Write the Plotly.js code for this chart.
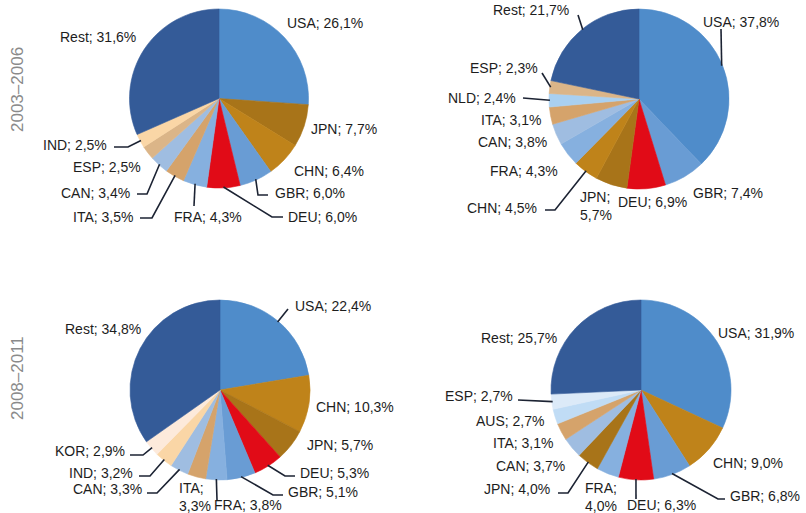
<!DOCTYPE html>
<html>
<head>
<meta charset="utf-8">
<script src="https://cdn.plot.ly/plotly-3.0.1.min.js"></script>
<style>
  html, body { margin: 0; padding: 0; background: #fff; }
  #chart { width: 806px; height: 513px; }
</style>
</head>
<body>
<div id="chart"></div>
<script>
// Country shares of output, two periods, two groupings (percent)
const countriesA1 = ['USA', 'JPN', 'CHN', 'GBR', 'DEU', 'FRA', 'ITA', 'CAN', 'ESP', 'IND', 'Rest'];
const valuesA1    = [26.1, 7.7, 6.4, 6.0, 6.0, 4.3, 3.5, 3.4, 2.5, 2.5, 31.6];

const countriesB1 = ['USA', 'GBR', 'DEU', 'JPN', 'CHN', 'FRA', 'CAN', 'ITA', 'NLD', 'ESP', 'Rest'];
const valuesB1    = [37.8, 7.4, 6.9, 5.7, 4.5, 4.3, 3.8, 3.1, 2.4, 2.3, 21.7];

const countriesA2 = ['USA', 'CHN', 'JPN', 'DEU', 'GBR', 'FRA', 'ITA', 'CAN', 'IND', 'KOR', 'Rest'];
const valuesA2    = [22.4, 10.3, 5.7, 5.3, 5.1, 3.8, 3.3, 3.3, 3.2, 2.9, 34.8];

const countriesB2 = ['USA', 'CHN', 'GBR', 'DEU', 'FRA', 'JPN', 'CAN', 'ITA', 'AUS', 'ESP', 'Rest'];
const valuesB2    = [31.9, 9.0, 6.8, 6.3, 4.0, 4.0, 3.7, 3.1, 2.7, 2.7, 25.7];

const periodLabels = ['2003–2006', '2008–2011'];

// Slice palette
const C = {
  usa: '#4f8cca', gbr: '#699cd4', deu: '#e10b17', fra: '#86b0df', can: '#9fbde1',
  ita: '#d5a36b', espTan: '#dbb588', ind: '#fad6a6', kor: '#fdeadb', nld: '#a9d0f1',
  jpn: '#a87419', chn: '#bf831a', aus: '#c0dcf5', espBlue: '#dceaf8', rest: '#345b98'
};
const colorsA1 = [C.usa, C.jpn, C.chn, C.gbr, C.deu, C.fra, C.ita, C.can, C.espTan, C.ind, C.rest];
const colorsB1 = [C.usa, C.gbr, C.deu, C.jpn, C.chn, C.fra, C.can, C.ita, C.nld, C.espTan, C.rest];
const colorsA2 = [C.usa, C.chn, C.jpn, C.deu, C.gbr, C.fra, C.ita, C.can, C.ind, C.kor, C.rest];
const colorsB2 = [C.usa, C.chn, C.gbr, C.deu, C.fra, C.jpn, C.can, C.ita, C.aus, C.espBlue, C.rest];

const W = 806, H = 513;

// Label placement (pixels): anchor side, text position, optional leader bends
const placeA1 = {
  USA: {a: 'left', x: 285, y: 23},
  JPN: {a: 'left', x: 309, y: 129},
  CHN: {a: 'left', x: 292, y: 171},
  GBR: {a: 'left', x: 273, y: 193, lead: [[258, 195], [268, 195]]},
  DEU: {a: 'left', x: 286, y: 217, lead: [[272, 217], [283, 217]]},
  FRA: {a: 'left', x: 172, y: 217, lead: [[194, 206]]},
  ITA: {a: 'right', x: 135, y: 217, lead: [[152, 218], [140, 218]]},
  CAN: {a: 'right', x: 132, y: 193, lead: [[147, 194], [137, 194]]},
  ESP: {a: 'right', x: 143, y: 167},
  IND: {a: 'right', x: 109, y: 145, lead: [[128, 147], [114, 147]]},
  Rest: {a: 'right', x: 138, y: 37}
};
const placeB1 = {
  USA: {a: 'left', x: 701, y: 22, lead: [[721, 29]]},
  GBR: {a: 'left', x: 691, y: 193},
  DEU: {a: 'left', x: 616, y: 202},
  JPN: {a: 'left', x: 578, y: 206, br: true},
  CHN: {a: 'right', x: 539, y: 208, lead: [[555, 210], [545, 210]]},
  FRA: {a: 'right', x: 560, y: 171},
  CAN: {a: 'right', x: 549, y: 142},
  ITA: {a: 'right', x: 543, y: 120},
  NLD: {a: 'right', x: 518, y: 98, lead: [[523, 98]]},
  ESP: {a: 'right', x: 540, y: 68, lead: [[542, 73]]},
  Rest: {a: 'right', x: 571, y: 10, lead: [[578, 15]]}
};
const placeA2 = {
  USA: {a: 'left', x: 293, y: 306, lead: [[288, 309]]},
  CHN: {a: 'left', x: 314, y: 407},
  JPN: {a: 'left', x: 305, y: 445},
  DEU: {a: 'left', x: 298, y: 473, lead: [[285, 476], [295, 476]]},
  GBR: {a: 'left', x: 286, y: 492, lead: [[273, 495], [283, 495]]},
  FRA: {a: 'left', x: 212, y: 505, lead: [[217, 500]]},
  ITA: {a: 'left', x: 177, y: 497, br: true},
  CAN: {a: 'right', x: 144, y: 489, lead: [[157, 493], [147, 493]]},
  IND: {a: 'right', x: 135, y: 473, lead: [[150, 476], [139, 476]]},
  KOR: {a: 'right', x: 127, y: 451, lead: [[143, 455], [130, 455]]},
  Rest: {a: 'right', x: 143, y: 329}
};
const placeB2 = {
  USA: {a: 'left', x: 716, y: 333},
  CHN: {a: 'left', x: 711, y: 463},
  GBR: {a: 'left', x: 728, y: 496, lead: [[718, 499], [725, 499]]},
  DEU: {a: 'left', x: 625, y: 505, lead: [[636, 499]]},
  FRA: {a: 'left', x: 583, y: 497, br: true},
  JPN: {a: 'right', x: 552, y: 489, lead: [[568, 493], [558, 493]]},
  CAN: {a: 'right', x: 567, y: 466},
  ITA: {a: 'right', x: 555, y: 443},
  AUS: {a: 'right', x: 546, y: 421},
  ESP: {a: 'right', x: 515, y: 396, lead: [[518, 400]]},
  Rest: {a: 'right', x: 559, y: 338}
};

const pies = [
  {names: countriesA1, values: valuesA1, colors: colorsA1, place: placeA1, cx: 219, cy: 98.5, r: 89.5},
  {names: countriesB1, values: valuesB1, colors: colorsB1, place: placeB1, cx: 639, cy: 99, r: 90},
  {names: countriesA2, values: valuesA2, colors: colorsA2, place: placeA2, cx: 220, cy: 390, r: 90},
  {names: countriesB2, values: valuesB2, colors: colorsB2, place: placeB2, cx: 641, cy: 390, r: 90}
];

const px = x => x / W;
const py = y => 1 - y / H;
const fmt = v => v.toFixed(1).replace('.', ',') + '%';

const traces = [];
const annotations = [];
const shapes = [];
const labelFont = {family: 'Liberation Sans, Arial, sans-serif', size: 14, color: '#1d1d1d'};

pies.forEach(p => {
  traces.push({
    type: 'pie',
    labels: p.names,
    values: p.values,
    sort: false,
    direction: 'clockwise',
    rotation: 0,
    textinfo: 'none',
    hoverinfo: 'label+percent',
    // outline each slice in its own colour so no seams show between wedges
    marker: {colors: p.colors, line: {width: 0.6, color: p.colors}},
    showlegend: false,
    domain: {
      x: [px(p.cx - p.r), px(p.cx + p.r)],
      y: [py(p.cy + p.r), py(p.cy - p.r)]
    }
  });

  const total = p.values.reduce((s, v) => s + v, 0);
  let cum = 0;
  p.names.forEach((name, i) => {
    const v = p.values[i];
    const mid = (cum + v / 2) / total * 2 * Math.PI;
    cum += v;
    const pl = p.place[name];
    const text = name + ';' + (pl.br ? '<br>' : ' ') + fmt(v);
    annotations.push({
      xref: 'paper', yref: 'paper',
      x: px(pl.x), y: py(pl.y),
      xanchor: pl.a, yanchor: 'middle',
      align: 'left',
      showarrow: false,
      text: text,
      font: labelFont
    });
    if (pl.lead) {
      const rx = p.cx + 0.99 * p.r * Math.sin(mid);
      const ry = p.cy - 0.99 * p.r * Math.cos(mid);
      let d = 'M ' + px(rx) + ' ' + py(ry);
      pl.lead.forEach(pt => { d += ' L ' + px(pt[0]) + ' ' + py(pt[1]); });
      shapes.push({
        type: 'path', xref: 'paper', yref: 'paper', path: d,
        line: {color: '#1c2333', width: 1.6}
      });
    }
  });
});

// Period labels down the left edge
[[17, 90], [17, 378]].forEach((pos, i) => {
  annotations.push({
    xref: 'paper', yref: 'paper',
    x: px(pos[0]), y: py(pos[1]),
    xanchor: 'center', yanchor: 'middle',
    textangle: -90,
    showarrow: false,
    text: periodLabels[i],
    font: {family: 'Liberation Sans, Arial, sans-serif', size: 17, color: '#8a8a8a'}
  });
});

const layout = {
  width: W, height: H,
  margin: {l: 0, r: 0, t: 0, b: 0},
  paper_bgcolor: '#ffffff',
  plot_bgcolor: '#ffffff',
  showlegend: false,
  annotations: annotations,
  shapes: shapes
};

Plotly.newPlot('chart', traces, layout, {displayModeBar: false, staticPlot: true});
</script>
</body>
</html>
